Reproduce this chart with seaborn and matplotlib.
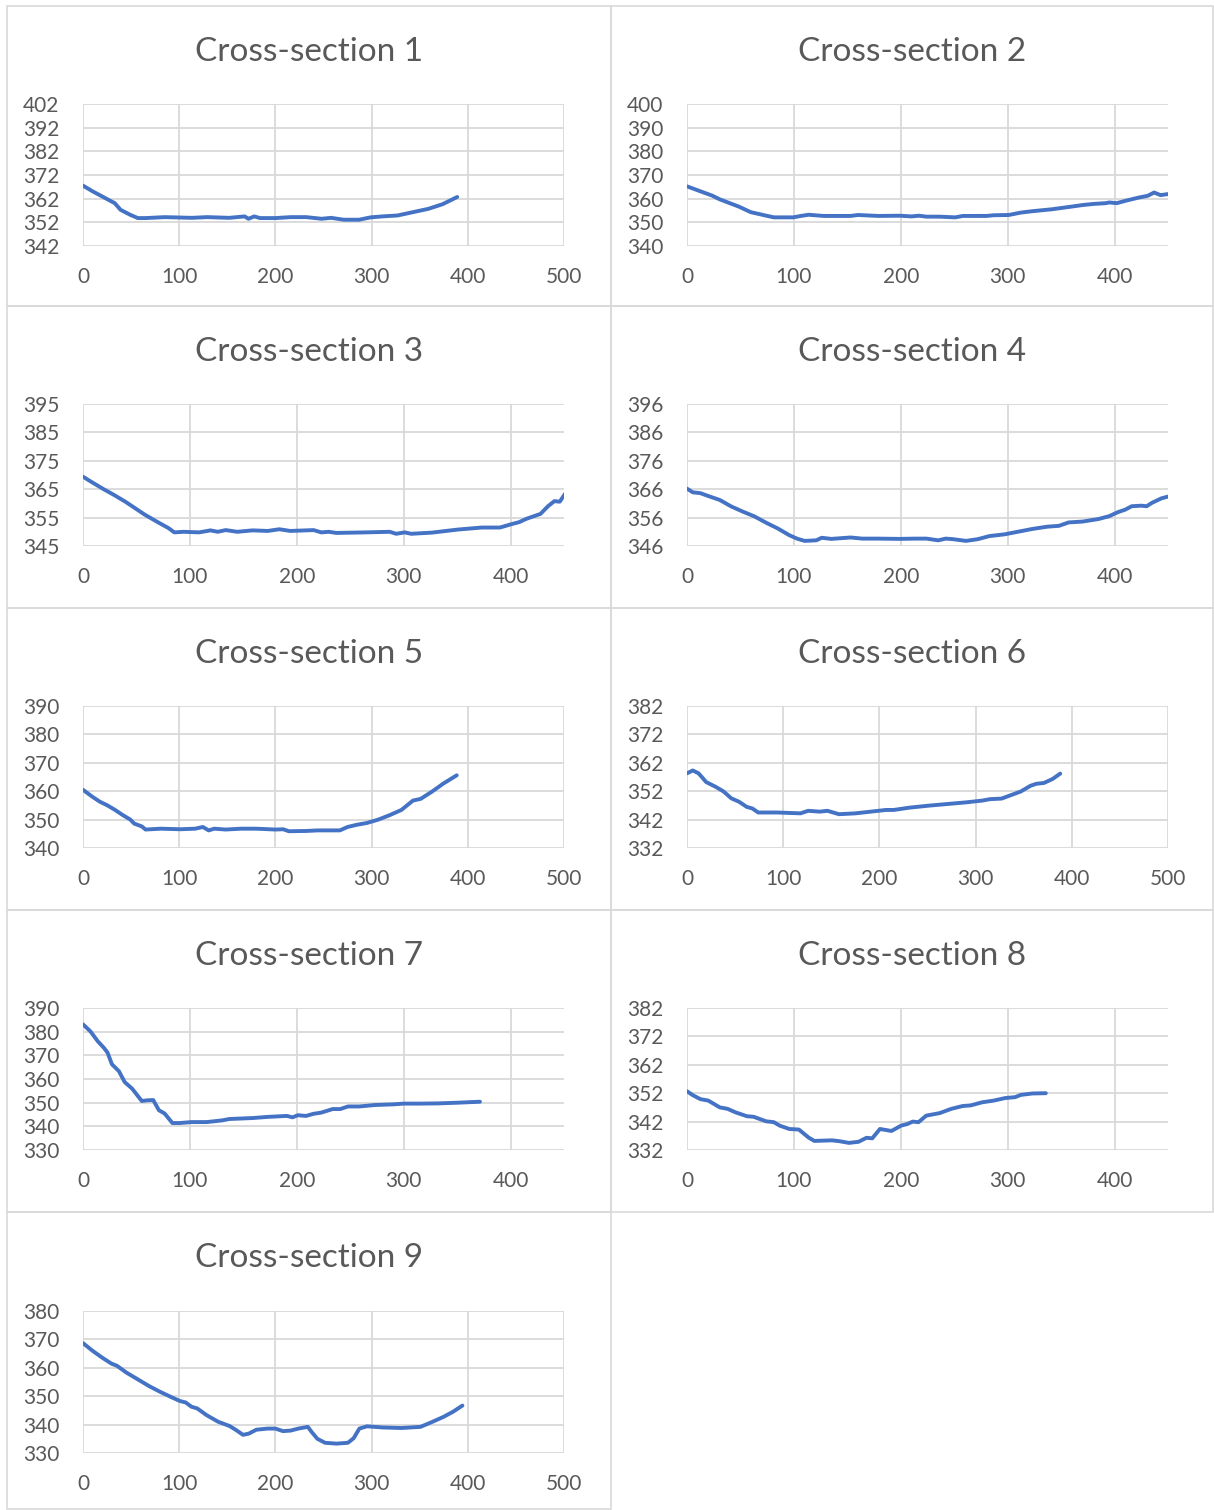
import matplotlib
matplotlib.use("Agg")
import matplotlib.pyplot as plt
import seaborn as sns
import pandas as pd
from matplotlib.patches import Rectangle

# Distance along section (m) and bed elevation (m) for each cross-section
x1 = [0, 10, 21, 33, 39, 49, 57, 65, 85, 113, 129, 152, 168, 172, 178, 184, 200, 216, 232, 248, 258, 271, 287, 299, 311, 327, 343, 359, 374, 389]
y1 = [367.5, 365.1, 362.7, 360.1, 357.3, 355.2, 353.8, 353.8, 354.2, 353.9, 354.2, 353.9, 354.5, 353.5, 354.5, 353.8, 353.8, 354.2, 354.2, 353.5, 353.9, 353.1, 353.1, 354.1, 354.5, 354.9, 356.3, 357.7, 359.7, 362.7]

x2 = [0, 12.6, 23.5, 30.7, 48.7, 59.6, 70.4, 81.2, 99.3, 106.5, 113.7, 128, 153, 160, 179, 199, 210, 217, 224, 236, 251, 258, 280, 287, 301, 312, 323, 341, 359, 370, 381, 392, 395, 402, 411, 423, 431, 437, 443, 451]
y2 = [365.2, 363.1, 361.3, 359.7, 356.6, 354.3, 353.2, 352.1, 352.1, 352.7, 353.2, 352.7, 352.7, 353.1, 352.7, 352.8, 352.5, 352.8, 352.4, 352.4, 352.1, 352.7, 352.7, 353.0, 353.1, 354.1, 354.7, 355.5, 356.6, 357.3, 357.8, 358.1, 358.4, 358.1, 359.2, 360.5, 361.2, 362.6, 361.5, 362.0]

x3 = [0, 8.6, 19.3, 28.9, 39.6, 46.8, 57.5, 68.5, 80, 85.4, 94.3, 108.6, 119.3, 126, 133.6, 144.3, 158.6, 172.9, 183.6, 194, 215.7, 222.9, 230, 237, 265, 287, 293, 301, 307, 326, 351, 373, 390, 401, 408, 415, 428, 435, 441, 446, 451]
y3 = [369.4, 367.4, 365.0, 363.0, 360.6, 358.8, 356.1, 353.7, 351.3, 349.8, 350.0, 349.8, 350.5, 350.0, 350.6, 350.0, 350.5, 350.3, 350.9, 350.3, 350.6, 349.8, 350.0, 349.6, 349.8, 350.0, 349.3, 349.8, 349.3, 349.7, 350.8, 351.5, 351.5, 352.7, 353.4, 354.6, 356.3, 359.0, 360.8, 360.6, 363.4]

x4 = [0, 5.4, 12.6, 19.9, 30.7, 41.5, 52.3, 63.2, 74, 84.8, 95.7, 102.9, 110, 121, 126, 135, 153, 164, 179, 199, 213, 224, 235, 242, 249, 261, 272, 283, 297, 308, 323, 337, 348, 357, 370, 385, 395, 403, 410, 416, 425, 430, 435, 444, 451]
y4 = [366.2, 364.9, 364.6, 363.6, 362.2, 359.9, 358.1, 356.4, 354.2, 352.2, 349.8, 348.6, 347.8, 348.0, 348.9, 348.5, 349.0, 348.6, 348.6, 348.5, 348.6, 348.6, 348.0, 348.6, 348.4, 347.8, 348.4, 349.5, 350.1, 350.9, 352.0, 352.8, 353.1, 354.3, 354.6, 355.5, 356.5, 357.9, 358.8, 360.0, 360.2, 360.0, 361.2, 362.8, 363.5]

x5 = [0, 9.5, 17.5, 25.4, 33.3, 41.3, 49.2, 53.2, 61.1, 65, 81, 100.8, 116.7, 124.6, 130.6, 136.5, 148.4, 164.3, 180, 200, 208, 214, 232, 244, 267, 275, 285, 295, 307, 319, 331, 343, 351, 363, 374.6, 388.5]
y5 = [360.5, 358.1, 356.3, 355.0, 353.4, 351.6, 350.0, 348.6, 347.6, 346.5, 346.8, 346.6, 346.8, 347.4, 346.2, 346.8, 346.5, 346.8, 346.8, 346.5, 346.6, 345.9, 346.0, 346.2, 346.2, 347.4, 348.2, 348.8, 350.0, 351.6, 353.4, 356.7, 357.3, 359.9, 362.7, 365.6]

x6 = [0, 6, 12, 20, 30, 38, 46, 54, 62, 68, 74, 94, 118, 126, 138, 146, 158, 175, 191, 207, 215, 231, 251, 271, 291, 307, 315, 327, 335, 347, 357, 363, 371, 380, 388]
y6 = [358.3, 359.3, 358.3, 355.2, 353.5, 351.9, 349.5, 348.3, 346.5, 345.9, 344.5, 344.5, 344.2, 345.1, 344.8, 345.1, 343.9, 344.2, 344.8, 345.4, 345.4, 346.2, 346.9, 347.5, 348.1, 348.7, 349.2, 349.4, 350.4, 351.9, 353.9, 354.6, 354.9, 356.3, 358.2]

x7 = [0, 6.8, 13.9, 19.3, 22.9, 27.1, 33.6, 39, 46, 55, 60.4, 65.7, 71, 76.4, 83.6, 90.7, 101.4, 115.7, 130, 137, 158.6, 173, 190.7, 196, 201, 208.6, 215.7, 222.9, 233.6, 240.7, 247.9, 258.6, 272.9, 290.7, 300, 315.4, 333, 351.4, 371.4]
y7 = [383.1, 380.2, 375.9, 373.3, 371.2, 366.2, 363.3, 358.7, 355.9, 350.7, 351.0, 351.1, 346.8, 345.4, 341.4, 341.4, 341.8, 341.8, 342.5, 343.1, 343.5, 344.0, 344.4, 343.8, 344.7, 344.4, 345.3, 345.8, 347.3, 347.3, 348.4, 348.4, 349.0, 349.3, 349.6, 349.6, 349.7, 350.0, 350.4]

x8 = [0, 5.4, 12.6, 19.9, 30.7, 37.9, 45.1, 56, 62.3, 74, 81.2, 86.6, 95.7, 104.7, 113.7, 119.1, 135.4, 142.6, 151.6, 160.6, 167.9, 173.3, 180.5, 191.3, 200.4, 205.8, 211.2, 216.6, 223.8, 236.5, 247.3, 258.1, 265.3, 276.2, 287, 297.8, 306.9, 312.3, 323.1, 335.7]
y8 = [352.7, 351.3, 349.9, 349.4, 347.0, 346.5, 345.3, 343.9, 343.7, 342.1, 341.8, 340.6, 339.4, 339.2, 336.4, 335.2, 335.4, 335.1, 334.5, 334.9, 336.3, 336.1, 339.4, 338.7, 340.6, 341.1, 342.0, 341.8, 344.1, 345.0, 346.5, 347.5, 347.7, 348.8, 349.4, 350.3, 350.6, 351.4, 351.9, 352.0]

x9 = [0, 9.5, 19.4, 29.4, 35.3, 45.2, 57.1, 69, 81, 92.9, 100.8, 106.7, 112.7, 118.7, 128.6, 140.5, 152.4, 159.5, 166.3, 172.2, 180.2, 192, 200, 207.9, 215.9, 223.8, 233.7, 237.7, 243.6, 251.6, 263.5, 275.4, 281.3, 287.3, 295.2, 311, 330.8, 350.8, 362.7, 374.6, 384.5, 394.4]
y9 = [368.7, 366.1, 363.7, 361.5, 360.7, 358.3, 355.9, 353.5, 351.4, 349.5, 348.3, 347.8, 346.3, 345.7, 343.3, 341.0, 339.5, 338.0, 336.4, 336.8, 338.2, 338.6, 338.6, 337.7, 337.9, 338.6, 339.2, 337.4, 335.0, 333.6, 333.3, 333.6, 335.2, 338.6, 339.4, 339.0, 338.8, 339.2, 340.9, 342.7, 344.5, 346.7]

titles = ["Cross-section 1", "Cross-section 2", "Cross-section 3", "Cross-section 4",
          "Cross-section 5", "Cross-section 6", "Cross-section 7", "Cross-section 8",
          "Cross-section 9"]
xs = [x1, x2, x3, x4, x5, x6, x7, x8, x9]
ys = [y1, y2, y3, y4, y5, y6, y7, y8, y9]
y_min = [342, 340, 345, 346, 340, 332, 330, 332, 330]
y_max = [402, 400, 395, 396, 390, 382, 390, 382, 380]
x_max = [500, 450, 450, 450, 500, 500, 450, 450, 500]

sns.set_theme(style="white")
plt.rcParams["font.family"] = ["Lato", "DejaVu Sans"]

W, H = 1214, 1510
fig = plt.figure(figsize=(W / 100, H / 100), dpi=100)
fig.patch.set_facecolor("white")

line_color = "#4472C4"
grid_color = "#D9D9D9"
text_color = "#595959"

col_x = [(7, 611), (611, 1213)]
row_y = [6, 306, 608, 910, 1212, 1509]
plot_left = [83, 687]
plot_w = 481
plot_top = [104, 404, 706, 1008, 1311]
plot_h = 142

for i in range(9):
    r, c = divmod(i, 2)
    cx0, cx1 = col_x[c]
    cy0, cy1 = row_y[r], row_y[r + 1]
    # chart frame
    fig.add_artist(Rectangle((cx0 / W, 1 - cy1 / H), (cx1 - cx0) / W, (cy1 - cy0) / H,
                             transform=fig.transFigure, fill=False,
                             edgecolor=grid_color, linewidth=1.2))
    # chart title
    fig.text((cx0 + cx1) / 2 / W, 1 - (cy0 + 46) / H, titles[i], ha="center", va="center",
             fontsize=24, color=text_color)

    ax = fig.add_axes([plot_left[c] / W, 1 - (plot_top[r] + plot_h) / H, plot_w / W, plot_h / H])
    df = pd.DataFrame({"dist": xs[i], "elev": ys[i]})
    sns.lineplot(data=df, x="dist", y="elev", ax=ax, sort=False, estimator=None,
                 color=line_color, linewidth=2.8)
    ax.set_xlim(0, x_max[i])
    ax.set_ylim(y_min[i], y_max[i])
    ax.set_xticks(range(0, x_max[i] + 1, 100))
    ax.set_yticks(range(y_min[i], y_max[i] + 1, 10))
    ax.grid(True, color=grid_color, linewidth=1.3)
    ax.set_axisbelow(True)
    for s in ax.spines.values():
        s.set_visible(False)
    ax.tick_params(axis="both", length=0, labelsize=15, labelcolor=text_color)
    ax.tick_params(axis="x", pad=15)
    ax.tick_params(axis="y", pad=17)
    ax.set_xlabel("")
    ax.set_ylabel("")
    ax.set_facecolor("white")

fig.savefig("out.png", dpi=100, facecolor="white")
